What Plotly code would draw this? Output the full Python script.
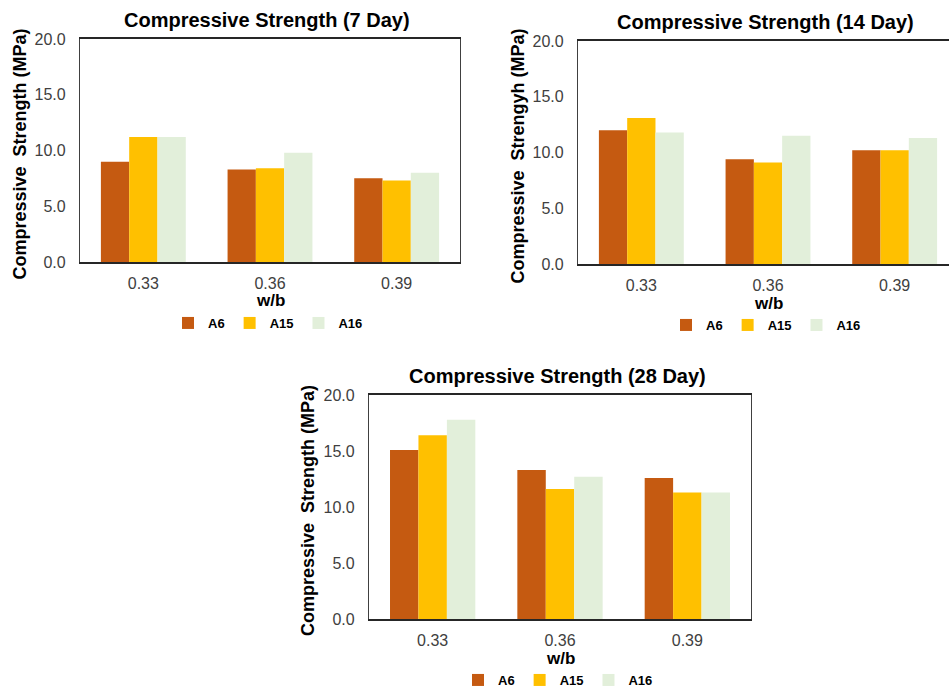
import plotly.graph_objects as go

categories = ["0.33", "0.36", "0.39"]
series_names = ["A6", "A15", "A16"]
colors = ["#C55A11", "#FFC000", "#E2EFDA"]

day7_A6 = [9.0, 8.3, 7.5]
day7_A15 = [11.2, 8.4, 7.3]
day7_A16 = [11.2, 9.8, 8.0]

day14_A6 = [12.0, 9.4, 10.2]
day14_A15 = [13.1, 9.1, 10.2]
day14_A16 = [11.8, 11.5, 11.3]

day28_A6 = [15.1, 13.3, 12.6]
day28_A15 = [16.4, 11.6, 11.3]
day28_A16 = [17.8, 12.7, 11.3]

titles = ["Compressive Strength (7 Day)", "Compressive Strength (14 Day)", "Compressive Strength (28 Day)"]
ytitles = ["Compressive  Strength (MPa)", "Compressive  Strengyh (MPa)", "Compressive  Strength (MPa)"]
xtitle = "w/b"
y_ticks = [0, 5, 10, 15, 20]

W, H = 949, 687
FONT = "Arial, Liberation Sans, sans-serif"

def px_x(x):
    return x / W

def px_y(y):
    return 1 - y / H

# panel geometry in pixels: left, right, top, bottom
panels = [
    dict(l=80, r=460, t=39, b=262),
    dict(l=578, r=958, t=41, b=264),
    dict(l=369, r=751, t=395, b=619),
]

data_sets = [
    [day7_A6, day7_A15, day7_A16],
    [day14_A6, day14_A15, day14_A16],
    [day28_A6, day28_A15, day28_A16],
]

fig = go.Figure()
legend_ids = ["legend", "legend2", "legend3"]

for i, (p, ds) in enumerate(zip(panels, data_sets)):
    xa = "x" if i == 0 else f"x{i+1}"
    ya = "y" if i == 0 else f"y{i+1}"
    for name, vals, col in zip(series_names, ds, colors):
        fig.add_trace(go.Bar(
            x=categories, y=vals, name=f"<b>{name}</b>", marker_color=col,
            marker_line_width=0, xaxis=xa, yaxis=ya,
            legend=legend_ids[i], showlegend=True,
        ))

layout = dict(
    width=W, height=H, margin=dict(l=0, r=0, t=0, b=0, autoexpand=False),
    paper_bgcolor="white", plot_bgcolor="white",
    barmode="group", bargap=0.33, bargroupgap=0,
    font=dict(family=FONT, color="#404040"),
    showlegend=True,
)

annotations = []
for i, p in enumerate(panels):
    xkey = "xaxis" if i == 0 else f"xaxis{i+1}"
    ykey = "yaxis" if i == 0 else f"yaxis{i+1}"
    right = min(p["r"], W)
    width_px = p["r"] - p["l"]
    vis_px = right - p["l"]
    xr = [-0.5, -0.5 + 3 * vis_px / width_px]
    anchor_y = "y" if i == 0 else f"y{i+1}"
    anchor_x = "x" if i == 0 else f"x{i+1}"
    layout[xkey] = dict(
        domain=[px_x(p["l"]), px_x(right)], anchor=anchor_y,
        range=xr, type="category", automargin=False,
        showline=True, linecolor="#262626", linewidth=1.5,
        mirror=True, ticks="", showgrid=False,
        tickfont=dict(size=16, color="#404040", family=FONT),
        ticklabelstandoff=6,
    )
    layout[ykey] = dict(
        domain=[px_y(p["b"]), px_y(p["t"])], anchor=anchor_x,
        range=[0, 20], tickvals=y_ticks, tickformat=".1f", automargin=False,
        showline=True, linecolor="#404040", linewidth=1.2,
        mirror=(i != 1), ticks="", showgrid=False, zeroline=False,
        tickfont=dict(size=16, color="#404040", family=FONT),
        ticklabelstandoff=10,
    )
    cx = (p["l"] + p["r"]) / 2
    annotations.append(dict(
        text=f"<b>{titles[i]}</b>", x=px_x(cx - 3), y=px_y(p["t"] - 19),
        xref="paper", yref="paper", showarrow=False, xanchor="center", yanchor="middle",
        font=dict(size=20, color="#000000", family=FONT),
    ))
    annotations.append(dict(
        text=f"<b>{ytitles[i]}</b>", x=px_x(p["l"] - 61), y=px_y((p["t"] + p["b"]) / 2 + 4),
        xref="paper", yref="paper", showarrow=False, xanchor="center", yanchor="middle",
        textangle=-90, font=dict(size=18, color="#000000", family=FONT),
    ))
    annotations.append(dict(
        text=f"<b>{xtitle}</b>", x=px_x(cx), y=px_y(p["b"] + 39),
        xref="paper", yref="paper", showarrow=False, xanchor="center", yanchor="middle",
        font=dict(size=17, color="#000000", family=FONT),
    ))
    lkey = legend_ids[i]
    layout[lkey] = dict(
        orientation="h", x=px_x(cx - 2), y=px_y(p["b"] + 61), xanchor="center", yanchor="middle",
        font=dict(size=13, color="#000000", family=FONT), itemwidth=30,
        bgcolor="rgba(0,0,0,0)", traceorder="normal",
        tracegroupgap=0, itemclick=False, itemdoubleclick=False,
    )

layout["annotations"] = annotations
fig.update_layout(**layout)

fig.write_html("out.html")
